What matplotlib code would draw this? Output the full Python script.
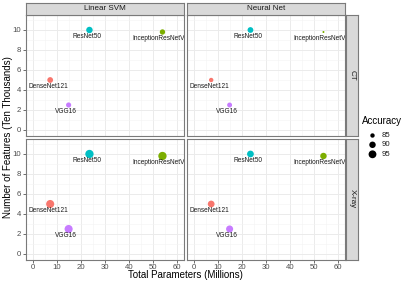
import numpy as np
import matplotlib
matplotlib.use('Agg')
import matplotlib.pyplot as plt

plt.rcParams['font.family'] = ['Liberation Sans', 'DejaVu Sans']

# data
models = ['DenseNet121', 'InceptionResNetV2', 'ResNet50', 'VGG16']
colors = ['#F8766D', '#7CAE00', '#00BFC4', '#C77CFF']
params = [7.1, 54.0, 23.5, 14.8]        # millions
features = [5.0, 9.8, 10.0, 2.5]       # ten thousands
classifiers = ['Linear SVM', 'Neural Net']
modalities = ['CT', 'X-ray']
acc_ct_svm = [88, 87, 90, 86.5]
acc_ct_nn = [85, 83, 88, 86]
acc_xray_svm = [96, 97, 97, 96]
acc_xray_nn = [91, 90, 91, 92]
legend_breaks = [85, 90, 95]

accs = {('CT', 'Linear SVM'): acc_ct_svm, ('CT', 'Neural Net'): acc_ct_nn,
        ('X-ray', 'Linear SVM'): acc_xray_svm, ('X-ray', 'Neural Net'): acc_xray_nn}

DPI = 100
W, H = 415, 284
amin, amax = 83, 97
dmin, dmax = 2.0, 8.3


def size_of(a):
    t = np.clip((np.asarray(a, float) - amin) / (amax - amin), 0, 1)
    d = dmin + (dmax - dmin) * np.sqrt(t)
    return (d * 72 / DPI) ** 2


fig = plt.figure(figsize=(W / DPI, H / DPI), dpi=DPI)

px_x = [26, 187]
pw = 158
py_top = [14.5, 138.5]
ph = 121

for r, mod in enumerate(modalities):
    for c, clf in enumerate(classifiers):
        x0 = px_x[c]
        y0 = py_top[r]
        ax = fig.add_axes([x0 / W, 1 - (y0 + ph) / H, pw / W, ph / H])
        ax.set_xlim(-3, 63)
        ax.set_ylim(-0.55, 11.55)
        ax.set_xticks(range(0, 61, 10))
        ax.set_yticks(range(0, 11, 2))
        ax.set_xticks(range(5, 61, 10), minor=True)
        ax.set_yticks(range(1, 12, 2), minor=True)
        ax.grid(which='major', color='#EBEBEB', lw=0.7)
        ax.grid(which='minor', color='#F3F3F3', lw=0.4)
        ax.set_axisbelow(True)
        for s in ax.spines.values():
            s.set_color('#7a7a7a')
            s.set_linewidth(0.8)
        ax.tick_params(which='minor', length=0)
        ax.tick_params(which='major', length=2, width=0.5, color='#333333',
                       labelsize=5.6, labelcolor='#4D4D4D', pad=1.5)
        if c == 1:
            ax.tick_params(axis='y', labelleft=False, length=0)
        if r == 0:
            ax.tick_params(axis='x', labelbottom=False, length=0)

        ax.scatter(params, features, s=size_of(accs[(mod, clf)]), c=colors,
                   edgecolors='none', zorder=3)
        for m, x, y in zip(models, params, features):
            ax.annotate(m, (x, y), xytext=(-1.6, -2.2), textcoords='offset points',
                        ha='center', va='top', fontsize=4.7, color='#1A1A1A',
                        annotation_clip=False, clip_on=True)

        # top strips
        if r == 0:
            sax = fig.add_axes([x0 / W, 1 - 14.5 / H, pw / W, 11.5 / H])
            sax.set_facecolor('#D9D9D9')
            sax.set_xticks([]); sax.set_yticks([])
            for s in sax.spines.values():
                s.set_color('#7a7a7a'); s.set_linewidth(0.8)
            sax.text(0.5, 0.5, clf, ha='center', va='center', fontsize=5.8,
                     color='#1A1A1A', transform=sax.transAxes)
        # right strips
        if c == 1:
            sax = fig.add_axes([346 / W, 1 - (y0 + ph) / H, 12 / W, ph / H])
            sax.set_facecolor('#D9D9D9')
            sax.set_xticks([]); sax.set_yticks([])
            for s in sax.spines.values():
                s.set_color('#7a7a7a'); s.set_linewidth(0.8)
            sax.text(0.5, 0.5, mod, ha='center', va='center', fontsize=5.8,
                     color='#1A1A1A', rotation=-90, transform=sax.transAxes)

fig.text(185.5 / W, 1 - 275 / H, 'Total Parameters (Millions)', ha='center',
         va='center', fontsize=7)
fig.text(8 / W, 1 - 137 / H, 'Number of Features (Ten Thousands)', ha='center',
         va='center', rotation=90, fontsize=7)

# legend
lax = fig.add_axes([0, 0, 1, 1])
lax.set_xlim(0, W)
lax.set_ylim(H, 0)
lax.axis('off')
lax.text(362, 121, 'Accuracy', ha='left', va='center', fontsize=7)
ly = [135.5, 144.8, 154.3]
lax.scatter([372.5] * 3, ly, s=size_of(legend_breaks), c='black',
            edgecolors='none')
for b, y in zip(legend_breaks, ly):
    lax.text(382, y, str(b), ha='left', va='center', fontsize=5.6, color='#1A1A1A')

fig.savefig('out.png', dpi=DPI)
